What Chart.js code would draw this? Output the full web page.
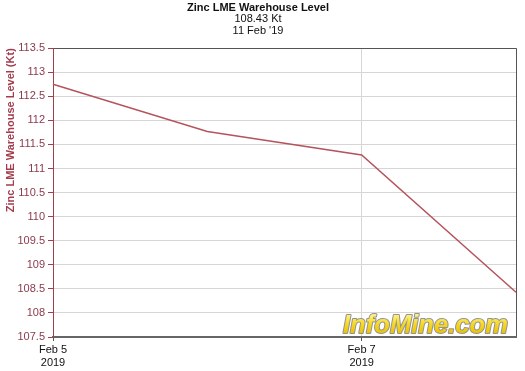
<!DOCTYPE html>
<html>
<head>
<meta charset="utf-8">
<script src="https://cdn.jsdelivr.net/npm/chart.js@4/dist/chart.umd.min.js"></script>
<style>
html,body{margin:0;padding:0;background:#fff;}
canvas{display:block;}
</style>
</head>
<body>
<canvas id="c" width="525" height="371"></canvas>
<script>
const categories = ['Feb 5', 'Feb 6', 'Feb 7', 'Feb 8'];
const zincValues = [112.75, 111.77, 111.28, 108.43];
const xTickLabels = [['Feb 5', '2019'], '', ['Feb 7', '2019'], ''];
const titleText = 'Zinc LME Warehouse Level';
const subtitleLines = ['108.43 Kt', "11 Feb '19"];
const yAxisTitle = 'Zinc LME Warehouse Level (Kt)';
const watermarkText = 'InfoMine.com';

const FONT = "'Liberation Sans', Arial, sans-serif";

const watermark = {
  id: 'watermark',
  afterDraw(chart) {
    const ctx = chart.ctx;
    const a = chart.chartArea;
    ctx.save();
    ctx.font = 'italic bold 25px ' + FONT;
    const w = ctx.measureText(watermarkText).width;
    const targetW = 165;
    const sx = targetW / w;
    const right = a.right - 8;
    const base = a.bottom - 4;
    ctx.translate(right - targetW, base);
    ctx.scale(sx, 1);
    ctx.textBaseline = 'alphabetic';
    ctx.textAlign = 'left';
    ctx.lineJoin = 'round';
    ctx.lineWidth = 2;
    ctx.strokeStyle = 'rgba(120,120,120,0.8)';
    ctx.strokeText(watermarkText, 0, 0);
    const g = ctx.createLinearGradient(0, -19, 0, 0);
    g.addColorStop(0, '#fff48a');
    g.addColorStop(0.5, '#f8d92a');
    g.addColorStop(1, '#eac300');
    ctx.fillStyle = g;
    ctx.fillText(watermarkText, 0, 0);
    ctx.restore();
  }
};

new Chart(document.getElementById('c'), {
  type: 'line',
  data: {
    labels: categories,
    datasets: [{
      data: zincValues,
      borderColor: '#b5545c',
      borderWidth: 1.5,
      pointRadius: 0,
      tension: 0,
      fill: false
    }]
  },
  options: {
    responsive: false,
    animation: false,
    devicePixelRatio: 1,
    layout: { padding: { left: 0, right: 9, top: 0, bottom: 0 } },
    plugins: {
      legend: { display: false },
      tooltip: { enabled: false },
      title: {
        display: true,
        text: titleText,
        color: '#111',
        font: { family: FONT, size: 11, weight: 'bold', lineHeight: 1 },
        padding: { top: 2, bottom: 0 }
      },
      subtitle: {
        display: true,
        text: subtitleLines,
        color: '#111',
        font: { family: FONT, size: 11, weight: 'normal', lineHeight: 1.1 },
        padding: { top: 0, bottom: 11 }
      }
    },
    scales: {
      x: {
        type: 'category',
        offset: false,
        afterFit(scale) { scale.height = 34; },
        border: { display: true, color: '#666', width: 2 },
        grid: {
          drawOnChartArea: true,
          drawTicks: true,
          tickLength: 4,
          color(ctx) {
            if (ctx.index === 2) return '#d6d6d6';
            if (ctx.index === 3) return '#555';
            return 'rgba(0,0,0,0)';
          },
          tickColor(ctx) {
            return (ctx.index === 0 || ctx.index === 2) ? '#555' : 'rgba(0,0,0,0)';
          }
        },
        ticks: {
          autoSkip: false,
          maxRotation: 0,
          minRotation: 0,
          padding: 3,
          color: '#111',
          font: { family: FONT, size: 11, lineHeight: 1.15 },
          callback(value, index) { return xTickLabels[index]; }
        }
      },
      y: {
        min: 107.5,
        max: 113.5,
        afterFit(scale) { scale.width = 53; },
        border: { display: true, color: '#a0404c', width: 1 },
        grid: {
          tickLength: 5,
          color(ctx) {
            if (ctx.tick && ctx.tick.value === 113.5) return '#555';
            return '#d6d6d6';
          },
          tickColor: '#a0404c'
        },
        ticks: {
          stepSize: 0.5,
          padding: 3,
          color: '#8b3a4b',
          font: { family: FONT, size: 11 },
          callback(value) { return String(Math.round(value * 10) / 10); }
        },
        title: {
          display: true,
          text: yAxisTitle,
          align: 'end',
          color: '#a33d4d',
          font: { family: FONT, size: 11, weight: 'bold' },
          padding: { top: 4, bottom: 0 }
        }
      }
    }
  },
  plugins: [watermark]
});
</script>
</body>
</html>
